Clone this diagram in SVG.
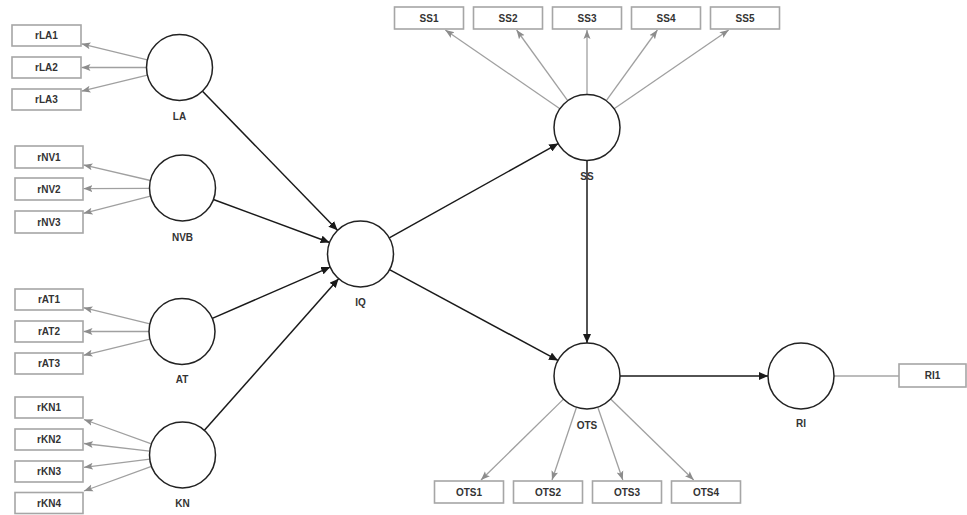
<svg xmlns="http://www.w3.org/2000/svg" width="967" height="515" viewBox="0 0 967 515">
<style>
  .box { fill: #ffffff; stroke: #a6a6a6; stroke-width: 1.6; }
  .lv { fill: #ffffff; stroke: #222222; stroke-width: 1.5; }
  .t { font-family: "Liberation Sans", Arial, sans-serif; font-size: 10px; font-weight: bold; fill: #333333; text-anchor: middle; }
  .ind { stroke: #a0a0a0; stroke-width: 1.3; fill: none; marker-end: url(#ga); }
  .path { stroke: #1a1a1a; stroke-width: 1.5; fill: none; marker-end: url(#ba); }
</style>
<defs>
  <marker id="ba" markerUnits="userSpaceOnUse" markerWidth="10" markerHeight="8" refX="9" refY="4" orient="auto">
    <path d="M0,0 L9,4 L0,8 z" fill="#1a1a1a"/>
  </marker>
  <marker id="ga" markerUnits="userSpaceOnUse" markerWidth="10" markerHeight="8" refX="9" refY="4" orient="auto">
    <path d="M0,0.5 L9,4 L0,7.5 L2,4 z" fill="#8c8c8c"/>
  </marker>
</defs>
<rect width="967" height="515" fill="#ffffff"/>

<g id="connectors">
  <!-- LA indicators -->
  <line class="ind" x1="147.4" y1="59.8" x2="81.5" y2="43.8"/>
  <line class="ind" x1="146.5" y1="67.5" x2="81.5" y2="67.5"/>
  <line class="ind" x1="147.4" y1="75.2" x2="81.5" y2="91.2"/>
  <!-- NVB indicators -->
  <line class="ind" x1="150.4" y1="180.5" x2="83.5" y2="164.9"/>
  <line class="ind" x1="149.5" y1="188.4" x2="83.5" y2="188.6"/>
  <line class="ind" x1="150.5" y1="196.1" x2="83.5" y2="213.3"/>
  <!-- AT indicators -->
  <line class="ind" x1="149.9" y1="323.8" x2="83.5" y2="307.7"/>
  <line class="ind" x1="149" y1="331.5" x2="83.5" y2="331.5"/>
  <line class="ind" x1="149.9" y1="339.2" x2="83.5" y2="355.3"/>
  <!-- KN indicators -->
  <line class="ind" x1="151.4" y1="443.9" x2="84" y2="419.5"/>
  <line class="ind" x1="149.7" y1="451.2" x2="84" y2="443.5"/>
  <line class="ind" x1="149.8" y1="459.1" x2="84" y2="467.3"/>
  <line class="ind" x1="151.5" y1="466.3" x2="84" y2="491"/>
  <!-- SS indicators -->
  <line class="ind" x1="559.9" y1="108.7" x2="445.3" y2="30"/>
  <line class="ind" x1="567.7" y1="100.7" x2="516.6" y2="30"/>
  <line class="ind" x1="587" y1="94.5" x2="587" y2="30"/>
  <line class="ind" x1="606.3" y1="100.7" x2="657.4" y2="30"/>
  <line class="ind" x1="614.1" y1="108.7" x2="728.7" y2="30"/>
  <!-- OTS indicators -->
  <line class="ind" x1="563.5" y1="399.1" x2="481" y2="480"/>
  <line class="ind" x1="576.5" y1="407.3" x2="552" y2="480"/>
  <line class="ind" x1="597.8" y1="407.2" x2="622.8" y2="480"/>
  <line class="ind" x1="610.6" y1="399" x2="693.7" y2="480"/>
  <!-- RI indicator -->
  <line x1="834" y1="376" x2="899" y2="376" stroke="#a6a6a6" stroke-width="1.3"/>
  <!-- structural paths -->
  <line class="path" x1="202.5" y1="91.2" x2="337.5" y2="230.3"/>
  <line class="path" x1="213.4" y1="199.5" x2="329.6" y2="242.5"/>
  <line class="path" x1="212.3" y1="318.4" x2="330.2" y2="267.1"/>
  <line class="path" x1="204.4" y1="430.3" x2="338.6" y2="278.7"/>
  <line class="path" x1="389.3" y1="237.9" x2="558.2" y2="143.6"/>
  <line class="path" x1="389.5" y1="269.6" x2="558" y2="360.4"/>
  <line class="path" x1="587" y1="160.5" x2="587" y2="343"/>
  <line class="path" x1="620" y1="376" x2="768" y2="376"/>
</g>

<g id="LA">
  <circle class="lv" cx="179.5" cy="67.5" r="33"/>
  <text class="t" x="179.5" y="119.5">LA</text>
</g>
<g id="rLA1"><rect class="box" x="12" y="25" width="69" height="21"/><text class="t" x="46.5" y="39">rLA1</text></g>
<g id="rLA2"><rect class="box" x="12" y="57" width="69" height="21"/><text class="t" x="46.5" y="71">rLA2</text></g>
<g id="rLA3"><rect class="box" x="12" y="89" width="69" height="21"/><text class="t" x="46.5" y="103">rLA3</text></g>

<g id="NVB">
  <circle class="lv" cx="182.5" cy="188" r="33"/>
  <text class="t" x="182.5" y="240.5">NVB</text>
</g>
<g id="rNV1"><rect class="box" x="15" y="146" width="68" height="22"/><text class="t" x="49" y="160.5">rNV1</text></g>
<g id="rNV2"><rect class="box" x="15" y="178" width="68" height="22"/><text class="t" x="49" y="192.5">rNV2</text></g>
<g id="rNV3"><rect class="box" x="15" y="211" width="68" height="22"/><text class="t" x="49" y="225.5">rNV3</text></g>

<g id="AT">
  <circle class="lv" cx="182" cy="331.5" r="33"/>
  <text class="t" x="182" y="382.5">AT</text>
</g>
<g id="rAT1"><rect class="box" x="15" y="289" width="68" height="21"/><text class="t" x="49" y="303">rAT1</text></g>
<g id="rAT2"><rect class="box" x="15" y="321" width="68" height="21"/><text class="t" x="49" y="335">rAT2</text></g>
<g id="rAT3"><rect class="box" x="15" y="353" width="68" height="21"/><text class="t" x="49" y="367">rAT3</text></g>

<g id="KN">
  <circle class="lv" cx="182.5" cy="455" r="33"/>
  <text class="t" x="182.5" y="506.5">KN</text>
</g>
<g id="rKN1"><rect class="box" x="15" y="397" width="68" height="21"/><text class="t" x="49" y="411">rKN1</text></g>
<g id="rKN2"><rect class="box" x="15" y="429" width="68" height="21"/><text class="t" x="49" y="443">rKN2</text></g>
<g id="rKN3"><rect class="box" x="15" y="461" width="68" height="21"/><text class="t" x="49" y="475">rKN3</text></g>
<g id="rKN4"><rect class="box" x="15" y="492.5" width="68" height="21"/><text class="t" x="49" y="506.5">rKN4</text></g>

<g id="IQ">
  <circle class="lv" cx="360.5" cy="254" r="33"/>
  <text class="t" x="360.5" y="305.5">IQ</text>
</g>

<g id="SS">
  <circle class="lv" cx="587" cy="127.5" r="33"/>
  <text class="t" x="587" y="179.5">SS</text>
</g>
<g id="SS1"><rect class="box" x="394.5" y="7" width="69" height="22"/><text class="t" x="429" y="21.5">SS1</text></g>
<g id="SS2"><rect class="box" x="473.5" y="7" width="69" height="22"/><text class="t" x="508" y="21.5">SS2</text></g>
<g id="SS3"><rect class="box" x="552.5" y="7" width="69" height="22"/><text class="t" x="587" y="21.5">SS3</text></g>
<g id="SS4"><rect class="box" x="631.5" y="7" width="69" height="22"/><text class="t" x="666" y="21.5">SS4</text></g>
<g id="SS5"><rect class="box" x="710.5" y="7" width="69" height="22"/><text class="t" x="745" y="21.5">SS5</text></g>

<g id="OTS">
  <circle class="lv" cx="587" cy="376" r="33"/>
  <text class="t" x="587" y="428.5">OTS</text>
</g>
<g id="OTS1"><rect class="box" x="434.5" y="481" width="69" height="22"/><text class="t" x="469" y="495.5">OTS1</text></g>
<g id="OTS2"><rect class="box" x="513.5" y="481" width="69" height="22"/><text class="t" x="548" y="495.5">OTS2</text></g>
<g id="OTS3"><rect class="box" x="592.5" y="481" width="69" height="22"/><text class="t" x="627" y="495.5">OTS3</text></g>
<g id="OTS4"><rect class="box" x="671.5" y="481" width="69" height="22"/><text class="t" x="706" y="495.5">OTS4</text></g>

<g id="RI">
  <circle class="lv" cx="801" cy="376" r="33"/>
  <text class="t" x="801" y="426.5">RI</text>
</g>
<g id="RI1"><rect class="box" x="899" y="364" width="67" height="23"/><text class="t" x="932.5" y="379">RI1</text></g>
</svg>
